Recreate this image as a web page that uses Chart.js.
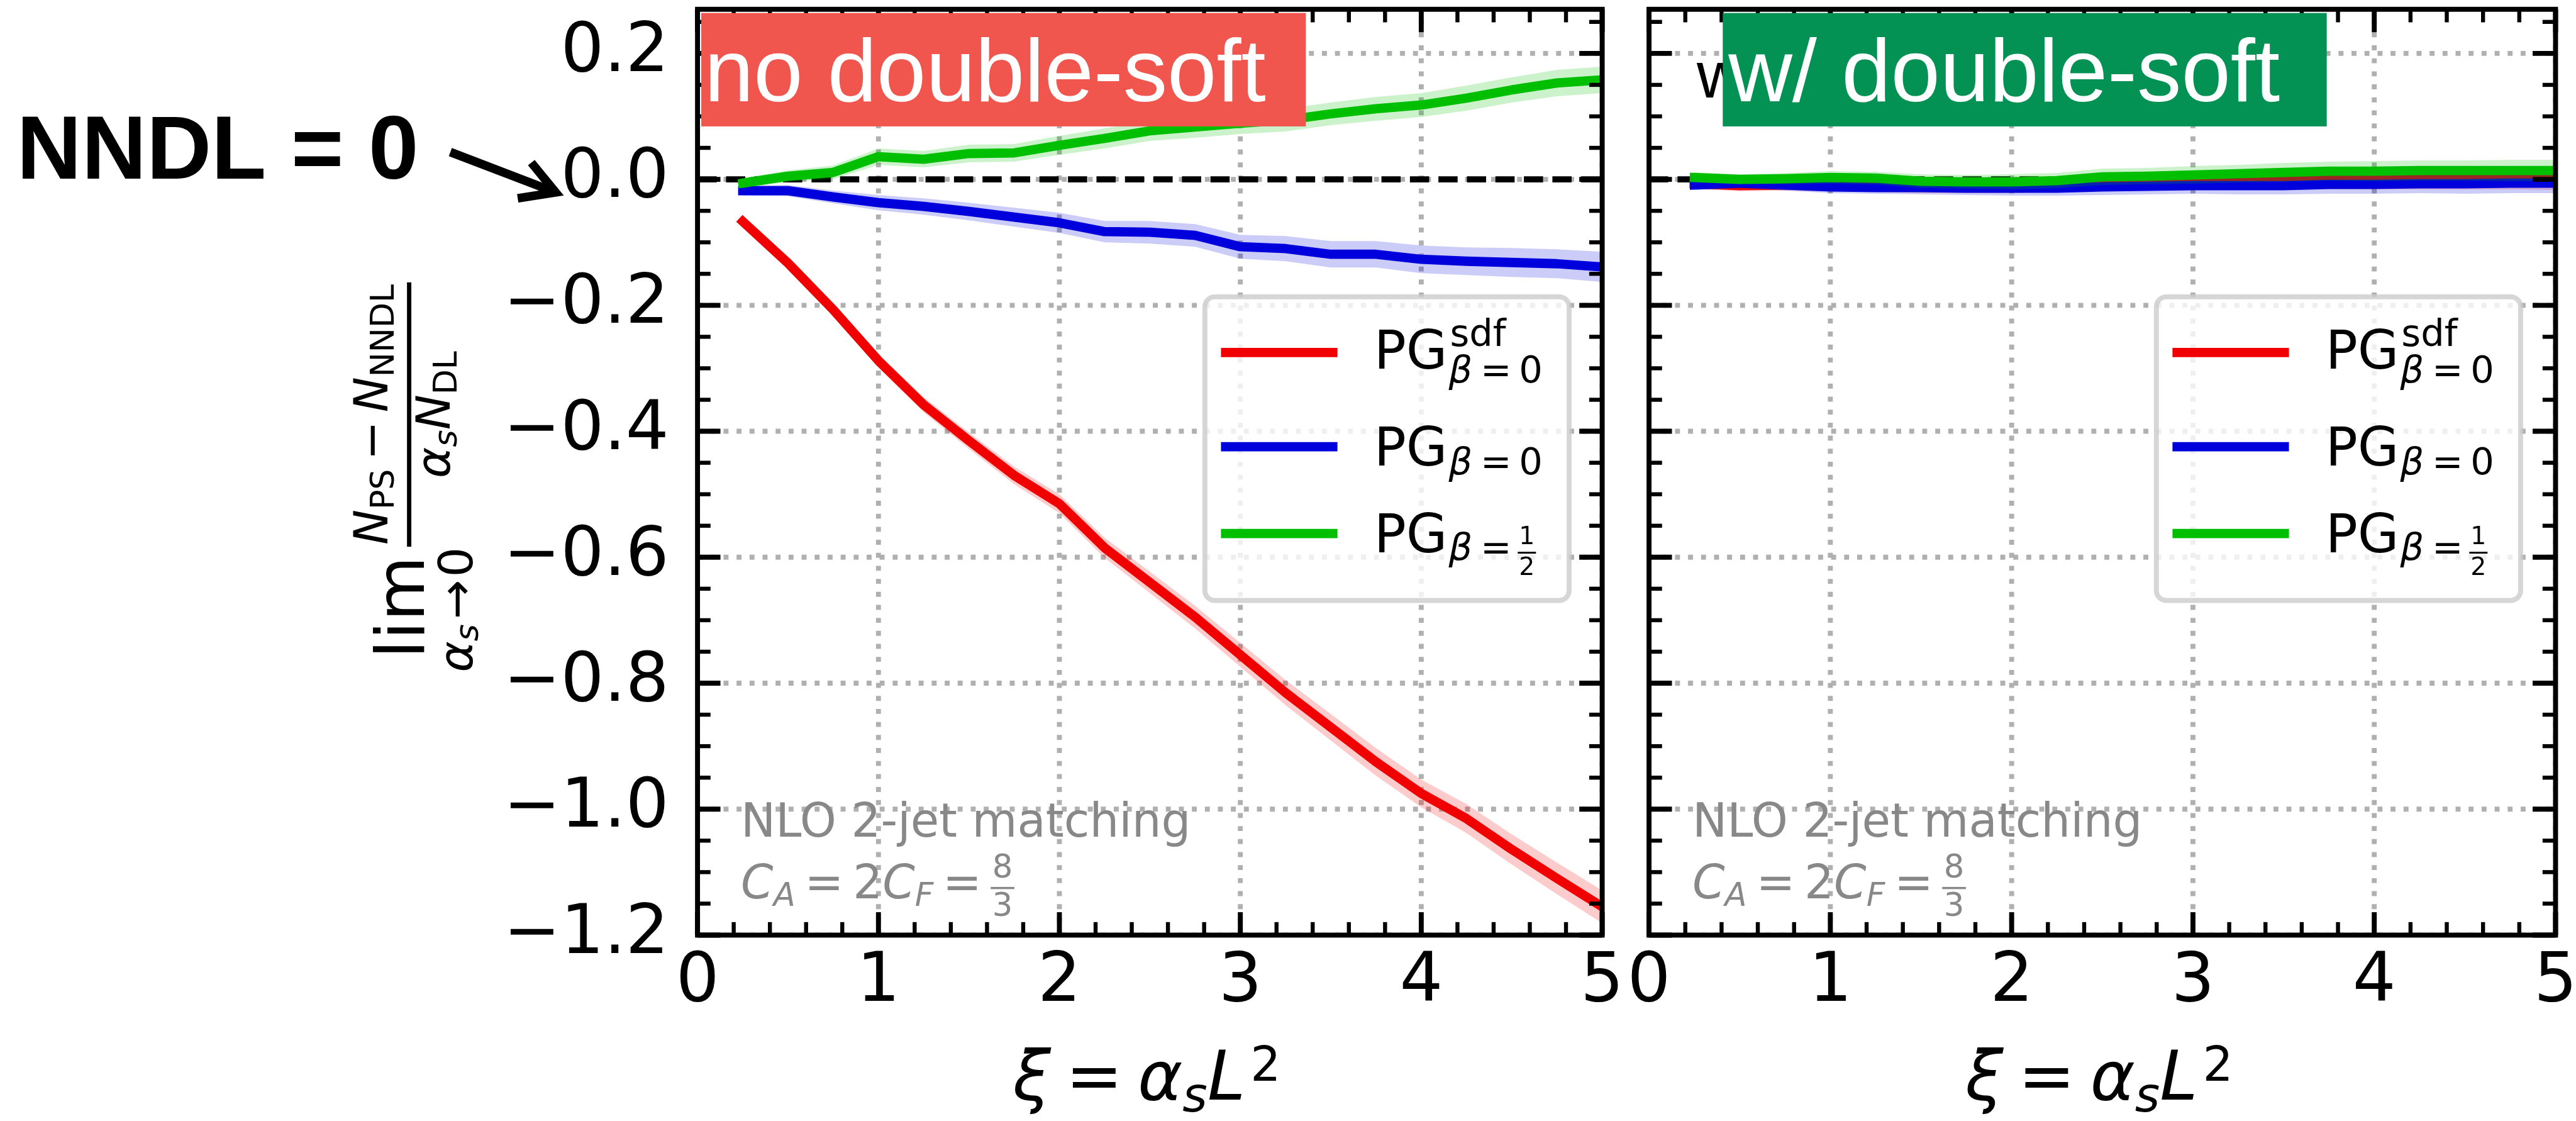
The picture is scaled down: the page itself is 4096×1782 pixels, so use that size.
<!DOCTYPE html>
<html>
<head>
<meta charset="utf-8">
<script src="https://cdn.jsdelivr.net/npm/chart.js@4.4.1/dist/chart.umd.min.js"></script>
<style>
  html, body { margin: 0; padding: 0; background: #fff; }
  #wrap { position: relative; width: 4096px; height: 1782px; overflow: hidden; background: #fff; }
  #wrap canvas { position: absolute; left: 0; top: 0; }
</style>
</head>
<body>
<div id="wrap">
  <canvas id="noDS" width="4096" height="1782"></canvas>
  <canvas id="wDS" width="4096" height="1782"></canvas>
</div>
<script>
const S = 0.985;
const p = v => v * S;

// xi = alpha_s L^2 sample points
const xi = [0.25, 0.5, 0.75, 1.0, 1.25, 1.5, 1.75, 2.0, 2.25, 2.5, 2.75, 3.0, 3.25, 3.5, 3.75, 4.0, 4.25, 4.5, 4.75, 5.0];

// left panel: no double-soft
const noSdf   = [-0.067, -0.133, -0.207, -0.288, -0.358, -0.415, -0.470, -0.515, -0.585, -0.640, -0.695, -0.755, -0.815, -0.870, -0.925, -0.975, -1.015, -1.064, -1.110, -1.155];
const noSdfErr = [0.008, 0.009, 0.010, 0.011, 0.012, 0.013, 0.014, 0.015, 0.016, 0.017, 0.018, 0.019, 0.020, 0.021, 0.022, 0.022, 0.023, 0.024, 0.025, 0.026];
const noB0    = [-0.018, -0.018, -0.028, -0.037, -0.043, -0.051, -0.060, -0.069, -0.083, -0.084, -0.089, -0.107, -0.110, -0.119, -0.119, -0.127, -0.130, -0.132, -0.134, -0.139];
const noB0Err = [0.008, 0.009, 0.010, 0.012, 0.013, 0.014, 0.015, 0.016, 0.017, 0.018, 0.018, 0.019, 0.020, 0.021, 0.021, 0.022, 0.022, 0.023, 0.023, 0.024];
const noBh    = [-0.006, 0.005, 0.011, 0.036, 0.032, 0.041, 0.042, 0.054, 0.065, 0.077, 0.083, 0.089, 0.094, 0.104, 0.112, 0.118, 0.129, 0.142, 0.153, 0.158];
const noBhErr = [0.008, 0.009, 0.011, 0.013, 0.013, 0.014, 0.014, 0.015, 0.016, 0.016, 0.017, 0.017, 0.018, 0.018, 0.019, 0.019, 0.020, 0.020, 0.021, 0.021];

// right panel: with double-soft
const wSdf    = [-0.007, -0.010, -0.009, -0.009, -0.010, -0.011, -0.011, -0.010, -0.008, -0.006, -0.004, -0.003, -0.003, -0.002, -0.001, -0.001, 0.000, 0.000, 0.000, 0.000];
const wSdfErr = [0.008, 0.009, 0.009, 0.010, 0.010, 0.011, 0.011, 0.012, 0.012, 0.013, 0.013, 0.014, 0.014, 0.015, 0.015, 0.015, 0.016, 0.016, 0.016, 0.017];
const wB0     = [-0.009, -0.006, -0.009, -0.012, -0.013, -0.013, -0.014, -0.014, -0.014, -0.012, -0.011, -0.010, -0.010, -0.010, -0.008, -0.008, -0.007, -0.007, -0.006, -0.006];
const wB0Err  = [0.008, 0.008, 0.009, 0.010, 0.010, 0.011, 0.011, 0.012, 0.012, 0.013, 0.013, 0.013, 0.014, 0.014, 0.015, 0.015, 0.015, 0.016, 0.016, 0.016];
const wBh     = [0.003, 0.000, 0.001, 0.003, 0.002, -0.003, -0.004, -0.004, -0.002, 0.004, 0.005, 0.007, 0.009, 0.011, 0.013, 0.013, 0.014, 0.014, 0.014, 0.014];
const wBhErr  = [0.008, 0.008, 0.009, 0.010, 0.010, 0.011, 0.011, 0.012, 0.012, 0.013, 0.013, 0.014, 0.014, 0.015, 0.015, 0.016, 0.016, 0.016, 0.017, 0.017];

const xTicks = [0, 1, 2, 3, 4, 5];
const yTicks = [-1.2, -1.0, -0.8, -0.6, -0.4, -0.2, 0.0, 0.2];

const RED = '#f00000', BLUE = '#0000dc', GREEN = '#00bf00';
const RED_BAND = 'rgba(240,0,0,0.2)', BLUE_BAND = 'rgba(0,0,220,0.2)', GREEN_BAND = 'rgba(0,191,0,0.2)';

// ---------- text helpers (reference pixel units, drawn under ctx.scale(S)) ----------
function font(r) {
  return (r.s === 'i' ? 'italic ' : '') + (r.b ? 'bold ' : '') + r.z + 'px ' + (r.f || '"DejaVu Sans"');
}
function partW(ctx, r) {
  ctx.font = font(r);
  if (r.fr) return Math.max(ctx.measureText(r.fr[0]).width, ctx.measureText(r.fr[1]).width) + r.z * 0.2;
  return ctx.measureText(r.t).width;
}
function runW(ctx, parts) { return parts.reduce((w, r) => w + (r.g || 0) + partW(ctx, r), 0); }
function drawRun(ctx, x, y, parts) {
  ctx.textAlign = 'left';
  ctx.textBaseline = 'alphabetic';
  for (const r of parts) {
    x += r.g || 0;
    const w = partW(ctx, r);
    ctx.font = font(r);
    if (r.fr) {
      ctx.textAlign = 'center';
      ctx.fillText(r.fr[0], x + w / 2, y + r.nb);
      ctx.fillText(r.fr[1], x + w / 2, y + r.db);
      ctx.textAlign = 'left';
      ctx.fillRect(x + r.z * 0.05, y + r.bar - r.bt / 2, w - r.z * 0.1, r.bt);
    } else {
      ctx.fillText(r.t, x, y + (r.dy || 0));
    }
    x += w;
  }
  return x;
}
function roundRect(ctx, x, y, w, h, r) {
  ctx.beginPath();
  ctx.moveTo(x + r, y);
  ctx.arcTo(x + w, y, x + w, y + h, r);
  ctx.arcTo(x + w, y + h, x, y + h, r);
  ctx.arcTo(x, y + h, x, y, r);
  ctx.arcTo(x, y, x + w, y, r);
  ctx.closePath();
}

function bandSets(vals, err, color, band) {
  const hidden = { pointRadius: 0, borderWidth: 0, borderColor: 'rgba(0,0,0,0)', clip: 0 };
  return [
    { ...hidden, data: xi.map((x, i) => ({ x, y: vals[i] - err[i] })), fill: false },
    { ...hidden, data: xi.map((x, i) => ({ x, y: vals[i] + err[i] })), fill: '-1', backgroundColor: band },
    { data: xi.map((x, i) => ({ x, y: vals[i] })), borderColor: color, borderWidth: p(15),
      pointRadius: 0, fill: false, clip: 0, borderCapStyle: 'square', borderJoinStyle: 'round', tension: 0 }
  ];
}

function panelPlugin(cfg) {
  return {
    id: 'panel_' + cfg.id,
    beforeDatasetsDraw(chart) {
      const { ctx, chartArea: ca, scales: { x, y } } = chart;
      ctx.save();
      ctx.beginPath();
      ctx.rect(ca.left, ca.top, ca.width, ca.height);
      ctx.clip();
      // dotted grid
      ctx.strokeStyle = '#b0b0b0';
      ctx.lineWidth = p(8);
      ctx.lineCap = 'butt';
      ctx.setLineDash([p(8), p(13)]);
      xTicks.forEach(v => {
        const px = x.getPixelForValue(v);
        ctx.beginPath(); ctx.moveTo(px, ca.bottom); ctx.lineTo(px, ca.top); ctx.stroke();
      });
      yTicks.forEach(v => {
        const py = y.getPixelForValue(v);
        ctx.beginPath(); ctx.moveTo(ca.left, py); ctx.lineTo(ca.right, py); ctx.stroke();
      });
      // NNDL = 0 reference line
      ctx.strokeStyle = '#000';
      ctx.lineWidth = p(10);
      ctx.setLineDash([p(31), p(15)]);
      const y0 = y.getPixelForValue(0);
      ctx.beginPath(); ctx.moveTo(ca.left, y0); ctx.lineTo(ca.right, y0); ctx.stroke();
      ctx.restore();
    },
    afterDatasetsDraw(chart) {
      const { ctx, chartArea: ca, scales: { x, y } } = chart;
      ctx.save();
      ctx.setLineDash([]);
      ctx.strokeStyle = '#000';
      ctx.lineCap = 'butt';
      // inward ticks on all four sides
      const xt = (v, len, w) => {
        const px = x.getPixelForValue(v);
        ctx.lineWidth = w;
        ctx.beginPath(); ctx.moveTo(px, ca.bottom); ctx.lineTo(px, ca.bottom - len); ctx.stroke();
        ctx.beginPath(); ctx.moveTo(px, ca.top); ctx.lineTo(px, ca.top + len); ctx.stroke();
      };
      const yt = (v, len, w) => {
        const py = y.getPixelForValue(v);
        ctx.lineWidth = w;
        ctx.beginPath(); ctx.moveTo(ca.left, py); ctx.lineTo(ca.left + len, py); ctx.stroke();
        ctx.beginPath(); ctx.moveTo(ca.right, py); ctx.lineTo(ca.right - len, py); ctx.stroke();
      };
      for (let k = 1; k < 25; k++) if (k % 5) xt(k / 5, p(21), p(6.5));
      for (let k = -23; k <= 5; k++) if (k % 4) yt(k * 0.05, p(21), p(6.5));
      xTicks.forEach(v => xt(v, p(37), p(8)));
      yTicks.forEach(v => yt(v, p(37), p(8)));
      // spines
      ctx.lineWidth = p(8);
      ctx.lineJoin = 'miter';
      ctx.strokeRect(ca.left, ca.top, ca.width, ca.height);

      // everything below in reference pixels
      ctx.scale(S, S);
      const L = ca.left / S, T = ca.top / S, R = ca.right / S, B = ca.bottom / S;

      // hidden black caption under the tag box
      ctx.fillStyle = '#000';
      ctx.font = '106px "Liberation Sans"';
      ctx.textAlign = 'left';
      ctx.textBaseline = 'alphabetic';
      ctx.fillText(cfg.tag, L + 77, 157);

      // coloured tag box
      ctx.fillStyle = cfg.tagColor;
      ctx.fillRect(L + cfg.tagX0, T + 6, cfg.tagX1 - cfg.tagX0, 183);
      ctx.fillStyle = '#fff';
      ctx.font = '143px "Liberation Sans"';
      ctx.fillText(cfg.tag, L + cfg.tagX0 + cfg.tagPad, 163);

      // legend
      ctx.fillStyle = 'rgba(255,255,255,0.8)';
      roundRect(ctx, L + 819, T + 464, 588, 490, 16);
      ctx.fill();
      ctx.strokeStyle = 'rgba(204,204,204,0.8)';
      ctx.lineWidth = 8;
      ctx.stroke();
      const rows = [T + 554, T + 706, T + 846];
      [RED, BLUE, GREEN].forEach((c, i) => {
        ctx.strokeStyle = c;
        ctx.lineWidth = 15;
        ctx.beginPath(); ctx.moveTo(L + 845, rows[i]); ctx.lineTo(L + 1033, rows[i]); ctx.stroke();
      });
      ctx.fillStyle = '#000';
      const tx = L + 1092;
      const pg = (base) => drawRun(ctx, tx, base, [{ t: 'PG', z: 86 }]);
      let xe = pg(T + 580);
      drawRun(ctx, xe + 4, T + 580 - 37, [{ t: 'sdf', z: 60 }]);
      drawRun(ctx, xe + 2, T + 580 + 22, [{ t: 'β', z: 60, s: 'i' }, { t: '=', z: 60, g: 13 }, { t: '0', z: 60, g: 12 }]);
      xe = pg(T + 736);
      drawRun(ctx, xe + 2, T + 736 + 14, [{ t: 'β', z: 60, s: 'i' }, { t: '=', z: 60, g: 13 }, { t: '0', z: 60, g: 12 }]);
      xe = pg(T + 876);
      drawRun(ctx, xe + 2, T + 876 + 13, [{ t: 'β', z: 60, s: 'i' }, { t: '=', z: 60, g: 13 },
        { fr: ['1', '2'], z: 40, g: 8, bar: -12, nb: -26, db: 24, bt: 3 }]);

      // matching note
      ctx.fillStyle = '#888888';
      drawRun(ctx, L + 70, B - 159, [{ t: 'NLO 2-jet matching', z: 75 }]);
      drawRun(ctx, L + 70, B - 59, [
        { t: 'C', z: 75, s: 'i' }, { t: 'A', z: 52, s: 'i', dy: 12 },
        { t: '=', z: 75, g: 15 }, { t: '2', z: 75, g: 15 },
        { t: 'C', z: 75, s: 'i' }, { t: 'F', z: 52, s: 'i', dy: 12 },
        { t: '=', z: 75, g: 15 },
        { fr: ['8', '3'], z: 52, g: 12, bar: -17, nb: -34, db: 28, bt: 3.5 }
      ]);

      // x-axis title
      ctx.fillStyle = '#000';
      const xt2 = [
        { t: 'ξ', z: 110, s: 'i' }, { t: '=', z: 110, g: 24 }, { t: 'α', z: 110, s: 'i', g: 24 },
        { t: 's', z: 77, s: 'i', dy: 19 }, { t: 'L', z: 110, s: 'i' }, { t: '2', z: 77, dy: -31, g: 8 }
      ];
      drawRun(ctx, (L + R) / 2 - runW(ctx, xt2) / 2 - 5, 1775, xt2);

      if (cfg.extras) cfg.extras(ctx, y.getPixelForValue(0) / S);
      ctx.restore();
    }
  };
}

// left-panel extras: y label and the NNDL annotation
function leftExtras(ctx, y0) {
  ctx.fillStyle = '#000';
  ctx.font = 'bold 145px "Liberation Sans"';
  ctx.textAlign = 'left';
  ctx.textBaseline = 'alphabetic';
  ctx.fillText('NNDL = 0', 27, y0 - 1);

  // arrow pointing at the zero line
  const sx = 727, sy = y0 - 44, tx = 897, ty = y0 + 21;
  const ang = Math.atan2(ty - sy, tx - sx);
  ctx.strokeStyle = '#000';
  ctx.lineWidth = 14;
  ctx.lineCap = 'butt';
  ctx.lineJoin = 'miter';
  ctx.beginPath(); ctx.moveTo(sx, sy); ctx.lineTo(tx - 4 * Math.cos(ang), ty - 4 * Math.sin(ang)); ctx.stroke();
  ctx.beginPath();
  ctx.moveTo(tx - 62 * Math.cos(ang - 0.52), ty - 62 * Math.sin(ang - 0.52));
  ctx.lineTo(tx, ty);
  ctx.lineTo(tx - 62 * Math.cos(ang + 0.52), ty - 62 * Math.sin(ang + 0.52));
  ctx.stroke();

  // rotated y label: lim_{alpha_s -> 0} (N_PS - N_NNDL) / (alpha_s N_DL)
  ctx.save();
  ctx.translate(684, 1081);
  ctx.rotate(-Math.PI / 2);
  ctx.fillStyle = '#000';
  const lim = [{ t: 'lim', z: 108 }];
  drawRun(ctx, 101 - runW(ctx, lim) / 2, 0, lim);
  const under = [{ t: 'α', z: 76, s: 'i' }, { t: 's', z: 53, s: 'i', dy: 10 }, { t: '→', z: 76, g: 8 }, { t: '0', z: 76, g: 4 }];
  drawRun(ctx, 97 - runW(ctx, under) / 2, 78, under);
  const num = [{ t: 'N', z: 76, s: 'i' }, { t: 'PS', z: 53, dy: 11 }, { t: '−', z: 76, g: 14 },
               { t: 'N', z: 76, s: 'i', g: 14 }, { t: 'NNDL', z: 53, dy: 11 }];
  const den = [{ t: 'α', z: 76, s: 'i' }, { t: 's', z: 53, s: 'i', dy: 11 }, { t: 'N', z: 76, s: 'i' }, { t: 'DL', z: 53, dy: 11 }];
  const nw = runW(ctx, num);
  drawRun(ctx, 412 - nw / 2, -59, num);
  drawRun(ctx, 412 - runW(ctx, den) / 2, 42, den);
  ctx.fillRect(412 - (nw + 6) / 2, -27, nw + 6, 7);
  ctx.restore();
}

function makePanel(id, cfg) {
  const datasets = [
    ...bandSets(cfg.sdf, cfg.sdfErr, RED, RED_BAND),
    ...bandSets(cfg.b0, cfg.b0Err, BLUE, BLUE_BAND),
    ...bandSets(cfg.bh, cfg.bhErr, GREEN, GREEN_BAND)
  ];
  datasets.forEach((d, i) => { d.order = datasets.length - i; });
  return new Chart(document.getElementById(id), {
    type: 'line',
    data: { datasets },
    options: {
      responsive: false,
      animation: false,
      devicePixelRatio: 1,
      layout: { padding: { left: 0, top: p(15), right: p(4158 - cfg.right), bottom: 0 } },
      plugins: { legend: { display: false }, tooltip: { enabled: false } },
      scales: {
        x: {
          type: 'linear', min: 0, max: 5,
          grid: { display: false, drawTicks: false },
          border: { display: false },
          afterBuildTicks: s => { s.ticks = xTicks.map(v => ({ value: v })); },
          afterFit: s => { s.height = p(300); s.paddingLeft = 0; s.paddingRight = 0; },
          ticks: {
            autoSkip: false, maxRotation: 0, color: '#000', padding: p(23),
            font: { family: 'DejaVu Sans', size: p(110), lineHeight: 1 },
            callback: v => String(v)
          }
        },
        y: {
          type: 'linear', min: -1.2, max: 0.27,
          grid: { display: false, drawTicks: false },
          border: { display: false },
          afterBuildTicks: s => { s.ticks = yTicks.map(v => ({ value: v })); },
          afterFit: s => { s.width = p(cfg.left); s.paddingTop = 0; s.paddingBottom = 0; },
          ticks: {
            display: cfg.showY, color: '#000', padding: p(46),
            font: { family: 'DejaVu Sans', size: p(110), lineHeight: 1 },
            callback: v => (v < -1e-9 ? '\u2212' : '') + Math.abs(v).toFixed(1)
          }
        }
      }
    },
    plugins: [panelPlugin(cfg)]
  });
}

makePanel('noDS', {
  id: 'no', left: 1126, right: 2586, showY: true,
  sdf: noSdf, sdfErr: noSdfErr, b0: noB0, b0Err: noB0Err, bh: noBh, bhErr: noBhErr,
  tag: 'no double-soft', tagColor: '#f0564e', tagX0: 6, tagX1: 982, tagPad: 5,
  extras: leftExtras
});
makePanel('wDS', {
  id: 'w', left: 2662, right: 4125, showY: false,
  sdf: wSdf, sdfErr: wSdfErr, b0: wB0, b0Err: wB0Err, bh: wBh, bhErr: wBhErr,
  tag: 'w/ double-soft', tagColor: '#049254', tagX0: 119, tagX1: 1094, tagPad: 9
});
</script>
</body>
</html>
